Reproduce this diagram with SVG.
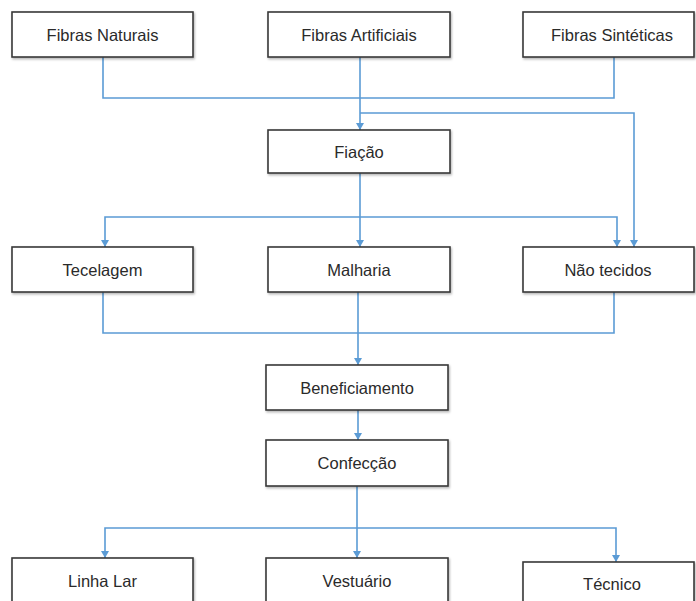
<svg xmlns="http://www.w3.org/2000/svg" width="696" height="601" viewBox="0 0 696 601">
<defs>
<marker id="ah" markerUnits="userSpaceOnUse" markerWidth="9" markerHeight="9" refX="8" refY="4.5" orient="auto" viewBox="0 0 9 9">
<path d="M1,0.5 L8,4.5 L1,8.5 Z" fill="#5B9BD5"/>
</marker>
<filter id="sh" x="-5%" y="-10%" width="112%" height="130%">
<feDropShadow dx="1" dy="1.5" stdDeviation="0.8" flood-color="#000" flood-opacity="0.3"/>
</filter>
</defs>
<style>
.box{fill:#fff;stroke:#3a3a3a;stroke-width:1.6;filter:url(#sh)}
.lbl{font-family:"Liberation Sans",Arial,sans-serif;font-size:16.5px;fill:#2a2a2a;text-anchor:middle}
.c{fill:none;stroke:#5B9BD5;stroke-width:1.6}
.a{fill:none;stroke:#5B9BD5;stroke-width:1.6;marker-end:url(#ah)}
</style>
<rect width="696" height="601" fill="#fff"/>
<g id="connectors">
<path class="c" d="M103,57 V98 H614 V57"/>
<path class="a" d="M360,57 V130"/>
<path class="a" d="M360,113 H634 V247"/>
<path class="a" d="M360,173 V247"/>
<path class="a" d="M360,217 H105 V247"/>
<path class="a" d="M360,217 H617 V247"/>
<path class="c" d="M103,292 V333 H614 V292"/>
<path class="a" d="M358,292 V365"/>
<path class="a" d="M358,410 V440"/>
<path class="a" d="M357,486 V558"/>
<path class="a" d="M357,528 H105 V558"/>
<path class="a" d="M357,528 H616 V562"/>
</g>
<g id="n-naturais"><rect class="box" x="12" y="12" width="181" height="45"/><text class="lbl" x="102.5" y="40.5">Fibras Naturais</text></g>
<g id="n-artificiais"><rect class="box" x="268" y="12" width="182" height="45"/><text class="lbl" x="359" y="40.5">Fibras Artificiais</text></g>
<g id="n-sinteticas"><rect class="box" x="523" y="12" width="171" height="45"/><text class="lbl" x="612" y="40.5">Fibras Sintéticas</text></g>
<g id="n-fiacao"><rect class="box" x="268" y="130" width="182" height="43"/><text class="lbl" x="359" y="157.5">Fiação</text></g>
<g id="n-tecelagem"><rect class="box" x="12" y="247" width="181" height="45"/><text class="lbl" x="102.5" y="275.5">Tecelagem</text></g>
<g id="n-malharia"><rect class="box" x="268" y="247" width="182" height="45"/><text class="lbl" x="359" y="275.5">Malharia</text></g>
<g id="n-naotecidos"><rect class="box" x="523" y="247" width="171" height="45"/><text class="lbl" x="608" y="275.5">Não tecidos</text></g>
<g id="n-beneficiamento"><rect class="box" x="266" y="365" width="182" height="45"/><text class="lbl" x="357" y="393.5">Beneficiamento</text></g>
<g id="n-confeccao"><rect class="box" x="266" y="440" width="182" height="46"/><text class="lbl" x="357" y="468.5">Confecção</text></g>
<g id="n-linhalar"><rect class="box" x="12" y="558" width="181" height="50"/><text class="lbl" x="102.5" y="586.5">Linha Lar</text></g>
<g id="n-vestuario"><rect class="box" x="266" y="558" width="182" height="50"/><text class="lbl" x="357" y="586.5">Vestuário</text></g>
<g id="n-tecnico"><rect class="box" x="523" y="562" width="171" height="50"/><text class="lbl" x="612" y="589.5">Técnico</text></g>
</svg>
